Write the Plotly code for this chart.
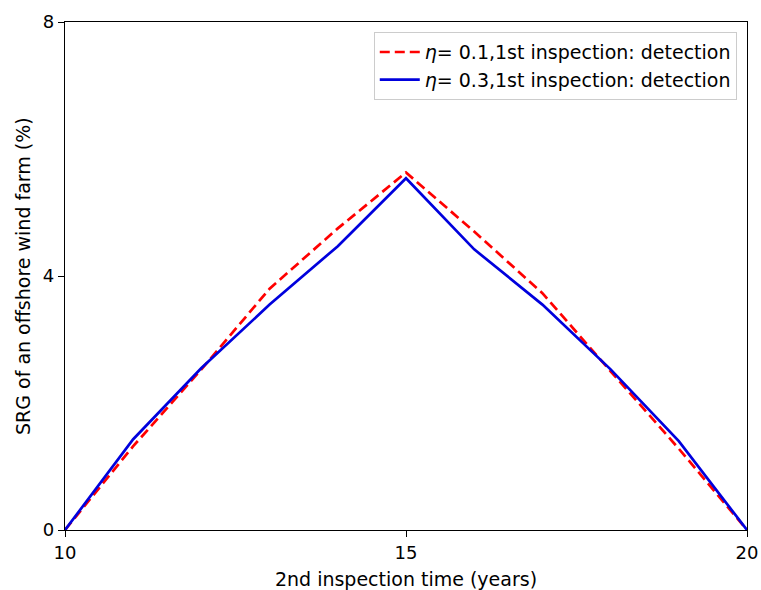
import plotly.graph_objects as go

# 2nd inspection time (years)
inspection_time = [10, 11, 12, 13, 14, 15, 16, 17, 18, 19, 20]

# SRG of an offshore wind farm (%)
srg_eta_01 = [0, 1.32, 2.53, 3.80, 4.75, 5.63, 4.70, 3.73, 2.50, 1.28, 0]
srg_eta_03 = [0, 1.43, 2.55, 3.55, 4.47, 5.54, 4.42, 3.55, 2.53, 1.40, 0]

x_ticks = [10, 15, 20]
y_ticks = [0, 4, 8]

font_family = "DejaVu Sans"

fig = go.Figure()
fig.add_trace(go.Scatter(
    x=inspection_time, y=srg_eta_01, mode="lines",
    name="<i>η</i>= 0.1,1st inspection: detection",
    line=dict(color="#ff0000", width=2.7, dash="10px,5px"),
))
fig.add_trace(go.Scatter(
    x=inspection_time, y=srg_eta_03, mode="lines",
    name="<i>η</i>= 0.3,1st inspection: detection",
    line=dict(color="#0000dd", width=2.7),
))

axis_common = dict(
    showline=True, linecolor="black", linewidth=1.3, mirror=True,
    ticks="outside", ticklen=6, tickcolor="black", tickwidth=1.3,
    showgrid=False, zeroline=False, ticklabeloverflow="allow",
    automargin=False,
    tickfont=dict(family=font_family, size=18, color="black"),
)

fig.update_layout(
    width=761, height=590,
    margin=dict(l=65, r=14, t=22, b=60),
    paper_bgcolor="white", plot_bgcolor="white",
    font=dict(family=font_family, size=19, color="black"),
    xaxis=dict(range=[10, 20], tickvals=x_ticks,
               title=dict(text="2nd inspection time (years)",
                          font=dict(family=font_family, size=19)),
               **axis_common),
    yaxis=dict(range=[0, 8], tickvals=y_ticks, **axis_common),
    legend=dict(x=0.985, y=0.980, xanchor="right", yanchor="top",
                bgcolor="rgba(255,255,255,0.8)", bordercolor="#cccccc",
                borderwidth=1, font=dict(family=font_family, size=19),
                itemwidth=40, tracegroupgap=0),
    showlegend=True,
)

# y-axis title placed a fixed distance left of the tick labels
fig.add_annotation(
    text="SRG of an offshore wind farm (%)",
    xref="paper", yref="paper", x=-0.0616, y=0.5,
    xanchor="center", yanchor="middle", textangle=-90, showarrow=False,
    font=dict(family=font_family, size=19, color="black"),
)

fig.write_html("out.html")
